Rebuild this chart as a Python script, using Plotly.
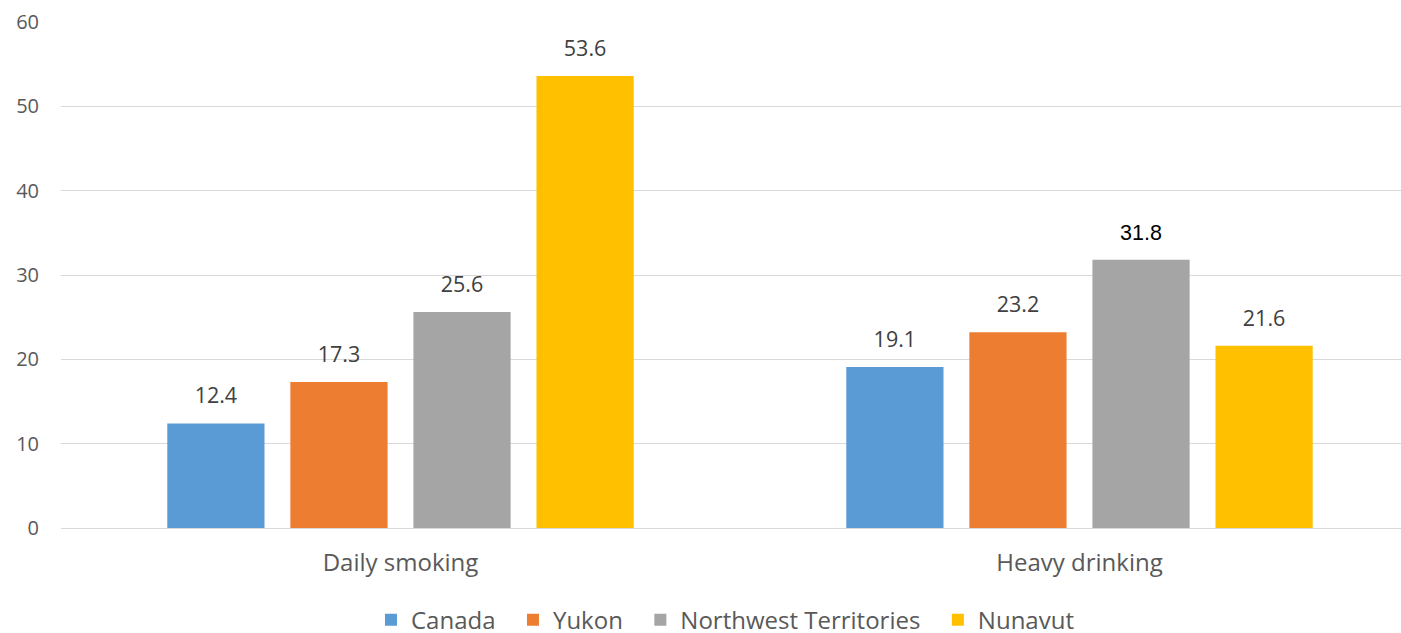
import plotly.graph_objects as go

# Survey indicators (%), by jurisdiction
categories = ["Daily smoking", "Heavy drinking"]
regions = ["Canada", "Yukon", "Northwest Territories", "Nunavut"]
canada = [12.4, 19.1]
yukon = [17.3, 23.2]
nwt = [25.6, 31.8]
nunavut = [53.6, 21.6]
y_ticks = [0, 10, 20, 30, 40, 50, 60]

series = [canada, yukon, nwt, nunavut]
colors = ["#5B9BD5", "#ED7D31", "#A5A5A5", "#FFC000"]

font_family = "Open Sans, Noto Sans, sans-serif"
gap = 0.275
pad = "\u00a0\u00a0"  # a little extra room between legend entries

fig = go.Figure()
for i, (name, vals, col) in enumerate(zip(regions, series, colors)):
    fig.add_trace(go.Bar(
        x=categories,
        y=vals,
        name=name + (pad if i < len(regions) - 1 else ""),
        offsetgroup=name,
        marker=dict(color=col, line=dict(width=0)),
        hovertemplate="%{x}: %{y}<extra>" + name + "</extra>",
    ))

# value labels, grouped the same way as the bars so they sit above them
for name, vals in zip(regions, series):
    # the 31.8 label in the original is black and in a different face
    odd = [name == "Northwest Territories" and c == "Heavy drinking" for c in categories]
    fcol = ["#000000" if o else "#404040" for o in odd]
    ffam = ["Liberation Sans, Arial, sans-serif" if o else font_family for o in odd]
    fig.add_trace(go.Scatter(
        x=categories,
        y=vals,
        offsetgroup=name,
        mode="markers+text",
        marker=dict(size=22, opacity=0),
        text=[f"{v:.1f}" for v in vals],
        textposition="top center",
        textfont=dict(size=21.5, color=fcol, family=ffam),
        showlegend=False,
        hoverinfo="skip",
        cliponaxis=False,
    ))

fig.update_layout(
    width=1401,
    height=633,
    barmode="group",
    scattermode="group",
    bargap=gap,
    scattergap=gap,
    bargroupgap=0.21,
    plot_bgcolor="white",
    paper_bgcolor="white",
    margin=dict(l=61, r=0, t=22, b=105, autoexpand=False),
    font=dict(family=font_family, color="#595959"),
    showlegend=True,
    legend=dict(
        orientation="h",
        x=0.4955,
        xanchor="center",
        y=-0.182,
        yanchor="middle",
        font=dict(size=24, color="#595959"),
        traceorder="normal",
    ),
)

fig.update_xaxes(
    type="category",
    range=[-0.5, 1.4735],
    showgrid=False,
    showline=True,
    linecolor="#D9D9D9",
    linewidth=1,
    ticks="",
    tickfont=dict(size=24, color="#595959"),
    ticklabelstandoff=13,
    automargin=False,
)

fig.update_yaxes(
    range=[0, 60],
    tickvals=y_ticks,
    showgrid=True,
    gridcolor="#D9D9D9",
    gridwidth=1,
    zeroline=False,
    showline=False,
    ticks="",
    tickfont=dict(size=20, color="#595959"),
    ticklabelstandoff=21,
    automargin=False,
)

# drop the browser's default body margin so the figure fills the window
fig.write_html(
    "out.html",
    config={"displayModeBar": False},
    post_script="document.body.style.margin='0';",
)
